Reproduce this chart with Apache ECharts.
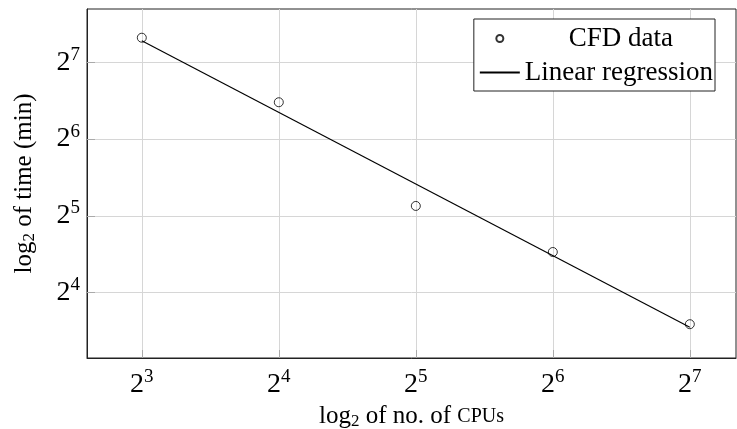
<!DOCTYPE html>
<html><head><meta charset="utf-8">
<script src="https://cdn.jsdelivr.net/npm/echarts@6/dist/echarts.min.js"></script>
<style>html,body{margin:0;padding:0;background:#fff}#c{width:737px;height:429px}</style>
</head><body><div id="c"></div>
<script>
// data (log2 values)
const cpuExp = [3, 4, 5, 6, 7];
const cfdTimeExp = [7.32, 6.48, 5.13, 4.53, 3.59];
const regCpuExp = [3, 7];
const regTimeExp = [7.28, 3.55];
const xTicks = [3, 4, 5, 6, 7];
const yTicks = [4, 5, 6, 7];

const FONT = 'Liberation Serif';
const powRich = {
  b: { fontFamily: FONT, fontSize: 28, color: '#000' },
  s: { fontFamily: FONT, fontSize: 19, color: '#000', padding: [0, 0, 15, 0] }
};
const nameRich = {
  a: { fontFamily: FONT, fontSize: 25, color: '#000' },
  sub: { fontFamily: FONT, fontSize: 17, color: '#000', padding: [11, 0, 0, 0] },
  sc: { fontFamily: FONT, fontSize: 20, color: '#000' }
};
const legRich = {
  c: { fontFamily: FONT, fontSize: 27, color: '#000', width: 192, align: 'center' },
  l: { fontFamily: FONT, fontSize: 27, color: '#000', width: 192, align: 'left' }
};

const chart = echarts.init(document.getElementById('c'), null, { renderer: 'canvas' });
chart.setOption({
  animation: false,
  backgroundColor: '#fff',
  grid: { left: 87, top: 9, right: 1, bottom: 71, containLabel: false, outerBoundsMode: 'none', show: true, borderColor: '#222', borderWidth: 1, backgroundColor: 'transparent' },
  xAxis: {
    type: 'value', min: 2.6, max: 7.337,
    axisLine: { show: true, lineStyle: { color: '#222' } },
    axisTick: { show: true, inside: true, length: 8, customValues: xTicks, lineStyle: { color: '#aaa' } },
    axisLabel: { customValues: xTicks, margin: 10, formatter: v => '{b|2}{s|' + v + '}', rich: powRich },
    splitLine: { show: true, lineStyle: { color: '#d6d6d6', width: 1 } },
    name: '{a|log}{sub|2}{a| of no. of }{sc|CPUs}',
    nameLocation: 'middle', nameGap: 39,
    nameTextStyle: { rich: nameRich }
  },
  yAxis: {
    type: 'value', min: 3.15, max: 7.694,
    axisLine: { show: true, lineStyle: { color: '#222' } },
    axisTick: { show: true, inside: true, length: 8, customValues: yTicks, lineStyle: { color: '#aaa' } },
    axisLabel: { customValues: yTicks, margin: 7, formatter: v => '{b|2}{s|' + v + '}', rich: powRich },
    splitLine: { show: true, lineStyle: { color: '#d6d6d6', width: 1 } },
    name: '{a|log}{sub|2}{a| of time (min)}',
    nameLocation: 'middle', nameGap: 49, nameRotate: 90,
    nameTextStyle: { rich: nameRich }
  },
  legend: {
    right: 22, top: 19,
    orient: 'vertical',
    backgroundColor: '#fff', borderColor: '#222', borderWidth: 1,
    padding: [6, 2, 5, 5], itemGap: 7,
    itemWidth: 40, itemHeight: 7,
    textStyle: { fontFamily: FONT, fontSize: 27, color: '#000', rich: legRich },
    formatter: name => name === 'CFD data' ? '{c|' + name + '}' : '{l|' + name + '}',
    data: [
      { name: 'CFD data' },
      { name: 'Linear regression', itemStyle: { opacity: 0 } }
    ]
  },
  series: [
    {
      name: 'CFD data', type: 'scatter',
      data: cpuExp.map((x, i) => [x, cfdTimeExp[i]]),
      symbol: 'circle', symbolSize: 9,
      itemStyle: { color: 'rgba(255,255,255,0)', borderColor: '#000', borderWidth: 1 },
      z: 5
    },
    {
      name: 'Linear regression', type: 'line',
      data: regCpuExp.map((x, i) => [x, regTimeExp[i]]),
      symbol: 'none',
      lineStyle: { color: '#000', width: 1.2 },
      itemStyle: { color: '#000' }
    }
  ]
});
</script></body></html>
